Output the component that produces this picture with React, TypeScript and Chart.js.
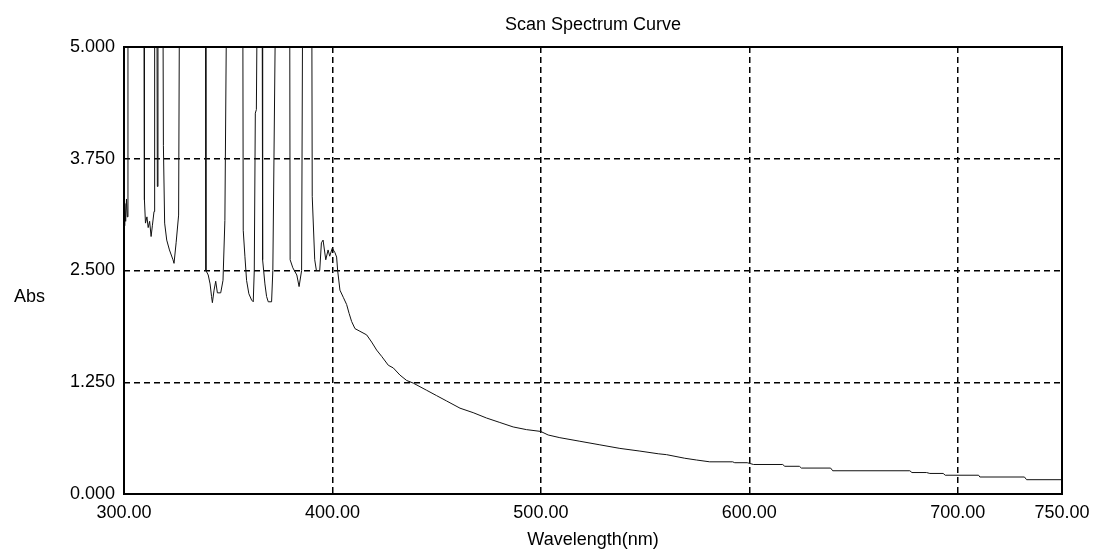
import React, { useEffect, useRef } from "react";
import { Chart, registerables } from "chart.js";

Chart.register(...registerables);

const TITLE = "Scan Spectrum Curve";
const X_TITLE = "Wavelength(nm)";
const Y_TITLE = "Abs";
const X_TICKS = [300, 400, 500, 600, 700, 750];
const Y_MIN = 0;
const Y_MAX = 5;
const Y_STEP = 1.25;

const wavelengths = [
  300.0, 300.4, 300.8, 301.2, 301.6, 301.9, 309.6, 309.8, 310.3, 311.0,
  311.6, 312.3, 313.0, 313.6, 314.4, 314.7, 315.8, 316.0, 316.3, 318.7,
  318.9, 319.5, 320.5, 321.8, 323.5, 324.0, 325.0, 326.2, 326.6, 339.1,
  339.3, 340.4, 341.3, 342.0, 342.4, 343.2, 344.0, 344.8, 346.4, 347.5,
  348.4, 349.2, 357.0, 357.2, 358.0, 358.8, 359.9, 361.2, 362.0, 362.5,
  363.0, 363.5, 363.9, 366.3, 366.5, 367.6, 368.4, 369.2, 370.8, 371.4,
  372.7, 379.5, 379.7, 381.0, 382.9, 384.0, 385.2, 385.7, 390.1, 390.3,
  391.5, 392.3, 393.9, 394.7, 395.5, 396.8, 397.9, 398.7, 399.9, 401.2,
  402.0, 402.5, 403.6, 405.2, 406.8, 408.0, 409.2, 410.8, 413.2, 416.4,
  418.8, 421.2, 423.6, 426.8, 429.2, 432.4, 435.6, 438.8, 442.0, 445.2,
  450.0, 454.8, 461.2, 467.5, 473.9, 480.3, 486.7, 493.1, 499.9, 503.5,
  509.1, 518.7, 528.3, 537.9, 547.5, 556.3, 560.3, 569.0, 574.7, 581.0,
  592.0, 593.0, 599.0, 602.0, 616.0, 617.0, 624.0, 625.0, 639.0, 640.0,
  677.0, 678.0, 685.0, 686.6, 693.0, 694.0, 710.0, 710.6, 732.0, 733.0,
  750.0,
];

const absorbance = [
  3.00, 3.25, 3.05, 3.30, 3.10, 5.5, 5.5, 3.29, 3.03, 3.10,
  2.98, 3.05, 2.88, 3.00, 3.16, 5.5, 5.5, 3.44, 5.5, 5.5,
  3.90, 3.03, 2.84, 2.73, 2.62, 2.58, 2.81, 3.12, 5.5, 5.5,
  2.50, 2.45, 2.35, 2.21, 2.14, 2.28, 2.38, 2.25, 2.25, 2.39,
  3.06, 5.5, 5.5, 2.95, 2.66, 2.39, 2.24, 2.17, 2.15, 2.50,
  4.26, 4.30, 5.5, 5.5, 2.62, 2.35, 2.21, 2.15, 2.15, 2.50,
  5.5, 5.5, 2.62, 2.53, 2.45, 2.32, 2.50, 5.5, 5.5, 3.33,
  2.62, 2.50, 2.50, 2.81, 2.84, 2.62, 2.73, 2.66, 2.75, 2.70,
  2.65, 2.50, 2.28, 2.20, 2.12, 2.02, 1.93, 1.85, 1.82, 1.78,
  1.70, 1.61, 1.54, 1.44, 1.41, 1.33, 1.27, 1.24, 1.20, 1.16,
  1.10, 1.04, 0.96, 0.91, 0.85, 0.80, 0.75, 0.72, 0.70, 0.66,
  0.63, 0.59, 0.55, 0.51, 0.48, 0.45, 0.44, 0.40, 0.38, 0.36,
  0.36, 0.35, 0.35, 0.33, 0.33, 0.31, 0.31, 0.29, 0.29, 0.26,
  0.26, 0.24, 0.24, 0.23, 0.23, 0.21, 0.21, 0.19, 0.19, 0.16,
  0.16,
];

const FONT_FAMILY = "'Liberation Sans', Arial, sans-serif";

const decorPlugin = {
  id: "decor",
  afterDatasetsDraw(chart: any) {
    const { ctx, chartArea: a } = chart;
    ctx.save();
    ctx.strokeStyle = "#000";
    ctx.lineWidth = 2;
    ctx.setLineDash([]);
    ctx.strokeRect(a.left, a.top, a.right - a.left, a.bottom - a.top);
    ctx.fillStyle = "#000";
    ctx.font = `18px ${FONT_FAMILY}`;
    ctx.textAlign = "center";
    ctx.textBaseline = "middle";
    ctx.fillText(TITLE, (a.left + a.right) / 2, a.top - 22);
    ctx.textAlign = "left";
    ctx.fillText(Y_TITLE, 14, a.top + (a.bottom - a.top) * 0.56);
    ctx.restore();
  },
};

export default function App() {
  const canvasRef = useRef<HTMLCanvasElement | null>(null);

  useEffect(() => {
    const canvas = canvasRef.current;
    if (!canvas) return;
    Chart.defaults.font.family = FONT_FAMILY;
    Chart.defaults.color = "#000";
    const gridOpts = {
      color: "#000",
      lineWidth: 1.5,
      drawTicks: false,
      tickLength: 0,
    };
    const chart = new Chart(canvas, {
      type: "line",
      data: {
        datasets: [
          {
            data: wavelengths.map((x, i) => ({ x, y: absorbance[i] })),
            borderColor: "#111",
            borderWidth: 1,
            pointRadius: 0,
            tension: 0,
            fill: false,
          },
        ],
      },
      options: {
        responsive: false,
        animation: false,
        devicePixelRatio: 1,
        layout: { padding: { left: 0, right: 33, top: 47, bottom: 0 } },
        plugins: {
          legend: { display: false },
          tooltip: { enabled: false },
          title: { display: false },
        },
        scales: {
          x: {
            type: "linear",
            min: X_TICKS[0],
            max: X_TICKS[X_TICKS.length - 1],
            afterBuildTicks: (scale: any) => {
              scale.ticks = X_TICKS.map((v) => ({ value: v }));
            },
            afterFit: (scale: any) => {
              scale.height = 55;
            },
            ticks: {
              autoSkip: false,
              maxRotation: 0,
              padding: 2,
              font: { size: 18, lineHeight: 1.9 },
              color: "#000",
              callback: (v: any) => Number(v).toFixed(2),
            },
            grid: gridOpts,
            border: { display: false, dash: [6, 4] },
            title: {
              display: true,
              text: X_TITLE,
              font: { size: 18, lineHeight: 1 },
              padding: { top: 0, bottom: 0 },
              color: "#000",
            },
          },
          y: {
            type: "linear",
            min: Y_MIN,
            max: Y_MAX,
            afterFit: (scale: any) => {
              scale.width = 124;
            },
            ticks: {
              stepSize: Y_STEP,
              padding: 9,
              font: { size: 18 },
              color: "#000",
              callback: (v: any) => Number(v).toFixed(3),
            },
            grid: gridOpts,
            border: { display: false, dash: [6, 4] },
          },
        },
      },
      plugins: [decorPlugin],
    } as any);
    return () => chart.destroy();
  }, []);

  return (
    <div style={{ position: "fixed", left: 0, top: 0, width: 1095, height: 549, background: "#fff" }}>
      <canvas ref={canvasRef} width={1095} height={549} style={{ display: "block" }} />
    </div>
  );
}
